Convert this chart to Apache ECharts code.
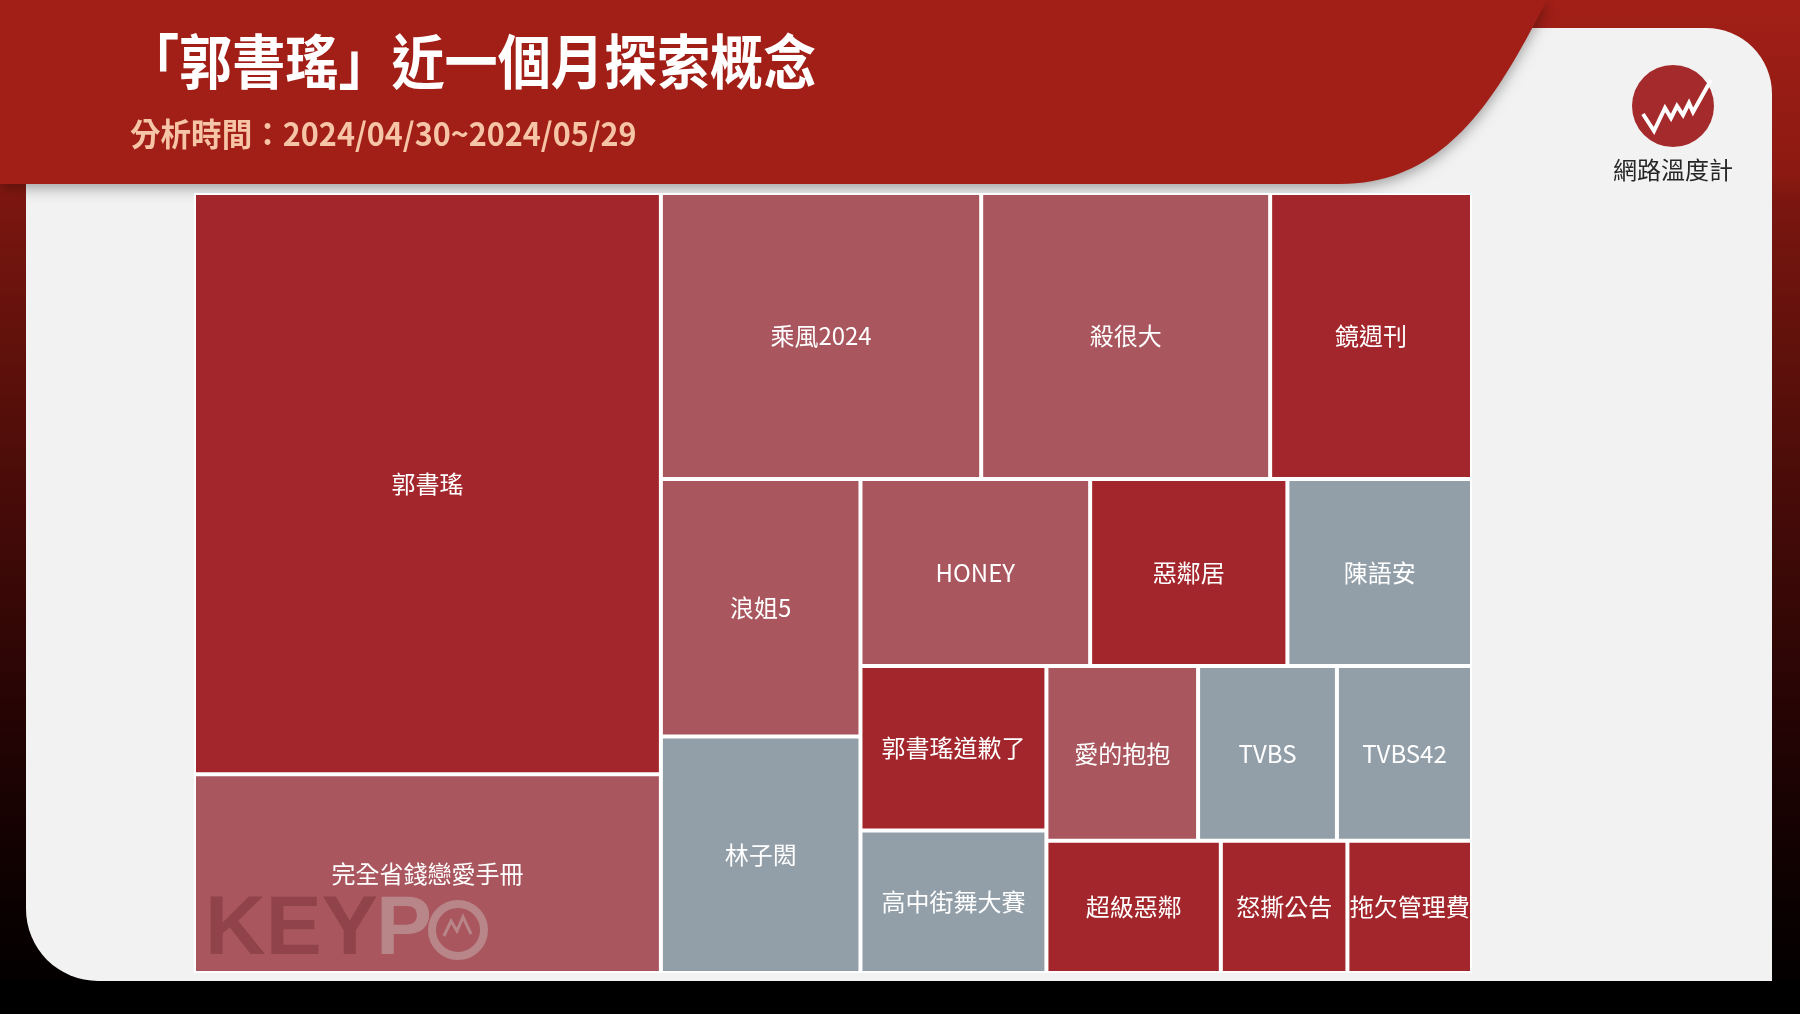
<!DOCTYPE html>
<html>
<head>
<meta charset="utf-8">
<script src="https://cdn.jsdelivr.net/npm/echarts@6/dist/echarts.min.js"></script>
<style>
  html, body { margin: 0; padding: 0; background: #000; }
  #chart { width: 1800px; height: 1014px; }
</style>
</head>
<body>
<div id="chart"></div>
<script>
// ---- data ----
const names = ['郭書瑤', '完全省錢戀愛手冊', '乘風2024', '殺很大', '鏡週刊', '浪姐5', '林子閎',
  'HONEY', '惡鄰居', '陳語安', '郭書瑤道歉了', '高中街舞大賽', '愛的抱抱', 'TVBS', 'TVBS42',
  '超級惡鄰', '怒撕公告', '拖欠管理費'];
const values = [2059, 704, 695, 627, 438, 390, 358, 326, 280, 262, 232, 201, 201, 184, 179, 175, 127, 125];
const tones = ['hot', 'warm', 'warm', 'warm', 'hot', 'warm', 'cool', 'warm', 'hot', 'cool', 'hot', 'cool',
  'warm', 'cool', 'cool', 'hot', 'hot', 'hot'];
// grouping of concepts (indices into the arrays above)
const grouping = [[0, 1], [[2, 3, 4], [[5, 6], [[7, 8, 9], [[10, 11], [[[12, 13], 14], [15, 16, 17]]]]]]];

const title = '「郭書瑤」近一個月探索概念';
const subtitle = '分析時間：2024/04/30~2024/05/29';
const brand = '網路溫度計';

// ---- styles ----
const toneColors = { hot: '#a2262b', warm: '#a9565e', cool: '#929fa9' };
const FONT = "'Noto Sans CJK TC', 'Noto Sans', sans-serif";

function build(node) {
  if (typeof node === 'number') {
    return {
      name: names[node],
      value: values[node],
      itemStyle: { color: toneColors[tones[node]], borderWidth: 2, borderColor: '#ffffff' }
    };
  }
  return { name: '', children: node.map(build), itemStyle: { borderWidth: 0, gapWidth: 0 } };
}
const treeData = grouping.map(build);

// banner outline (decoration): straight edges + one cubic curve
function bannerPoints() {
  const p0 = [1547, 0], p1 = [1500, 90], p2 = [1450, 184], p3 = [1340, 184];
  const pts = [[0, 0]];
  for (let i = 0; i <= 40; i++) {
    const t = i / 40, u = 1 - t;
    pts.push([
      u * u * u * p0[0] + 3 * u * u * t * p1[0] + 3 * u * t * t * p2[0] + t * t * t * p3[0],
      u * u * u * p0[1] + 3 * u * u * t * p1[1] + 3 * u * t * t * p2[1] + t * t * t * p3[1]
    ]);
  }
  pts.push([0, 184]);
  return pts;
}

const chart = echarts.init(document.getElementById('chart'), null, { renderer: 'canvas' });
const G = echarts.graphic;

chart.setOption({
  animation: false,
  backgroundColor: '#000',
  graphic: {
    elements: [
      { type: 'rect', z: -20, silent: true, shape: { x: 0, y: 0, width: 1800, height: 1014 },
        style: { fill: new G.LinearGradient(0, 0, 0, 1, [
          { offset: 0, color: '#a21f17' }, { offset: 0.17, color: '#8c1a12' },
          { offset: 0.2, color: '#7a160f' }, { offset: 0.45, color: '#4e0d09' },
          { offset: 0.7, color: '#260404' }, { offset: 0.9, color: '#0a0000' }, { offset: 1, color: '#000000' }]) } },
      { type: 'rect', z: -19, silent: true, shape: { x: 0, y: 981, width: 1800, height: 33 }, style: { fill: '#000' } },
      { type: 'rect', z: -18, silent: true, shape: { x: 26, y: 28, width: 1746, height: 953, r: [0, 66, 0, 72] },
        style: { fill: '#f2f2f2' } },
      { type: 'polygon', z: -17, silent: true,
        shape: { points: bannerPoints() },
        style: { fill: '#a11f17', shadowColor: 'rgba(0,0,0,0.35)', shadowBlur: 14, shadowOffsetY: 4 } },
      { type: 'text', z: 10, silent: true, x: 126, y: 62, scaleX: 0.9,
        style: { text: title, fill: '#ffffff', fontSize: 59, fontWeight: 'bold', fontFamily: FONT,
          textAlign: 'left', textVerticalAlign: 'middle' } },
      { type: 'text', z: 10, silent: true, x: 130, y: 134, scaleX: 0.955,
        style: { text: subtitle, fill: '#f6c4a6', fontSize: 32, fontWeight: 'bold', fontFamily: FONT,
          textAlign: 'left', textVerticalAlign: 'middle' } },
      { type: 'circle', z: 10, silent: true, shape: { cx: 1673, cy: 106, r: 41 }, style: { fill: '#a42a2b' } },
      { type: 'polyline', z: 11, silent: true,
        shape: { points: [[1643, 114], [1654, 131], [1665, 108], [1671, 118], [1677, 106], [1683, 115], [1689, 103], [1693, 112], [1711, 80]] },
        style: { stroke: '#ffffff', lineWidth: 4, fill: null, lineJoin: 'miter' } },
      { type: 'text', z: 10, silent: true, x: 1673, y: 170,
        style: { text: brand, fill: '#262626', fontSize: 24, fontFamily: FONT,
          textAlign: 'center', textVerticalAlign: 'middle' } },
      // KEYPO watermark
      { type: 'text', z: 50, silent: true, x: 205, y: 931,
        style: { text: 'KEY', fill: 'rgba(110,40,50,0.42)', fontSize: 84, fontWeight: 'bold',
          fontFamily: "'Liberation Sans', sans-serif", textAlign: 'left', textVerticalAlign: 'middle' } },
      { type: 'text', z: 50, silent: true, x: 376, y: 931,
        style: { text: 'P', fill: 'rgba(205,200,195,0.42)', fontSize: 84, fontWeight: 'bold',
          fontFamily: "'Liberation Sans', sans-serif", textAlign: 'left', textVerticalAlign: 'middle' } },
      { type: 'circle', z: 50, silent: true, shape: { cx: 458, cy: 930, r: 26 },
        style: { fill: null, stroke: 'rgba(205,200,195,0.42)', lineWidth: 8 } },
      { type: 'polyline', z: 50, silent: true,
        shape: { points: [[444, 936], [451, 921], [457, 931], [463, 917], [471, 934]] },
        style: { stroke: 'rgba(205,200,195,0.42)', lineWidth: 3, fill: null } }
    ]
  },
  series: [{
    type: 'treemap',
    left: 194, top: 193, width: 1278, height: 780,
    sort: false,
    roam: false,
    nodeClick: false,
    breadcrumb: { show: false },
    itemStyle: { borderWidth: 0, gapWidth: 0, borderColor: '#ffffff' },
    upperLabel: { show: false },
    label: {
      show: true, position: 'inside', color: '#ffffff', fontSize: 24, fontFamily: FONT,
      padding: 0, overflow: 'none'
    },
    emphasis: { disabled: true },
    data: treeData
  }]
});
</script>
</body>
</html>
